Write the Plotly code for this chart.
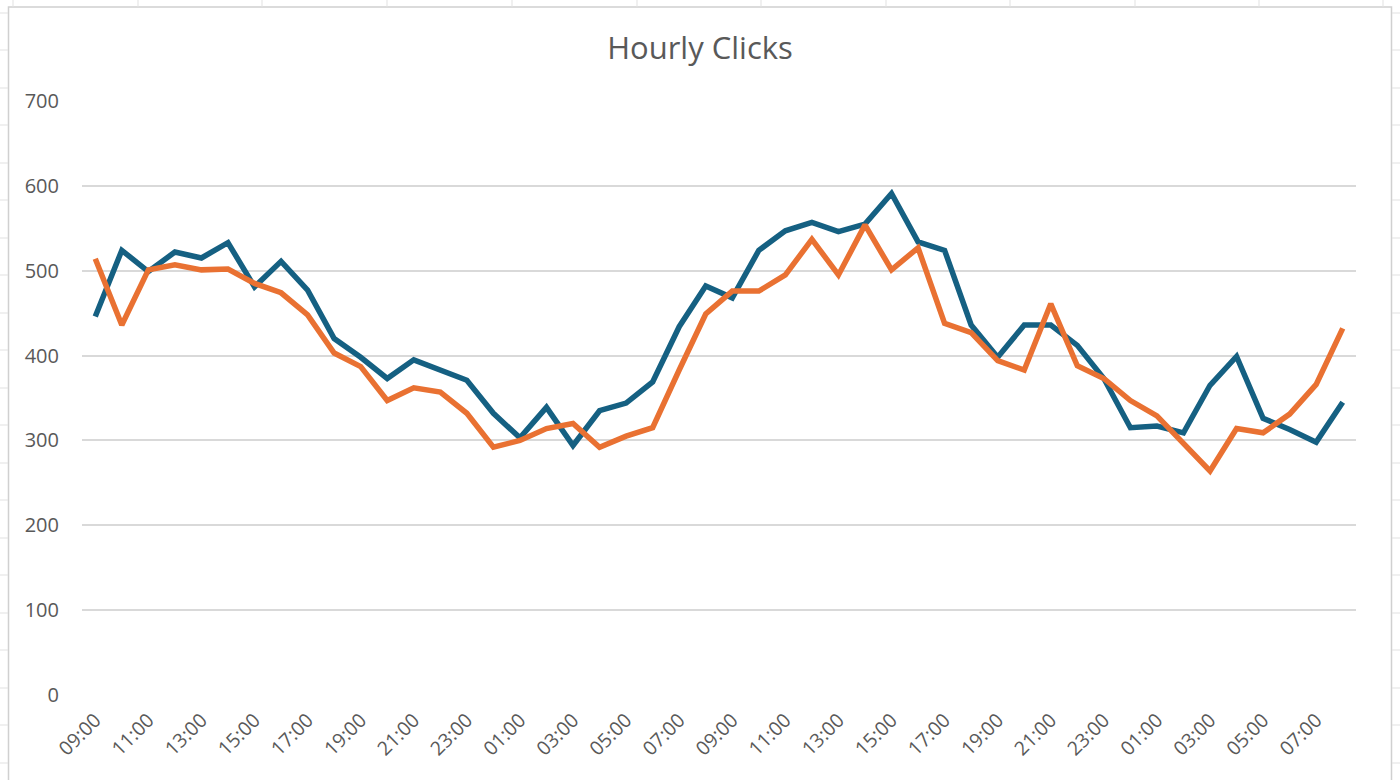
import plotly.graph_objects as go

# hourly buckets, 09:00 day 1 through 08:00 day 3
hours = [
    "09:00", "10:00", "11:00", "12:00", "13:00", "14:00", "15:00", "16:00",
    "17:00", "18:00", "19:00", "20:00", "21:00", "22:00", "23:00", "00:00",
    "01:00", "02:00", "03:00", "04:00", "05:00", "06:00", "07:00", "08:00",
    "09:00", "10:00", "11:00", "12:00", "13:00", "14:00", "15:00", "16:00",
    "17:00", "18:00", "19:00", "20:00", "21:00", "22:00", "23:00", "00:00",
    "01:00", "02:00", "03:00", "04:00", "05:00", "06:00", "07:00", "08:00",
]

clicks_blue = [
    446, 524, 499, 522, 515, 533, 481, 511, 477, 420, 398, 373,
    395, 383, 371, 332, 303, 339, 294, 335, 344, 369, 434, 482,
    468, 524, 547, 557, 546, 555, 591, 534, 524, 436, 398, 436,
    436, 412, 373, 315, 317, 309, 365, 399, 326, 313, 298, 345,
]

clicks_orange = [
    514, 436, 501, 507, 501, 502, 485, 474, 448, 403, 387, 347,
    362, 357, 332, 292, 300, 314, 320, 292, 305, 315, 383, 449,
    476, 476, 495, 537, 495, 554, 501, 527, 438, 427, 394, 383,
    461, 388, 373, 347, 329, 296, 264, 314, 309, 331, 366, 432,
]

y_ticks = [0, 100, 200, 300, 400, 500, 600, 700]

x_idx = list(range(len(hours)))
label_idx = x_idx[::2]
label_text = [hours[i] for i in label_idx]

fig = go.Figure()
fig.add_trace(go.Scatter(x=x_idx, y=clicks_blue, mode="lines",
                         line=dict(color="#156082", width=5.5), name="Series 1"))
fig.add_trace(go.Scatter(x=x_idx, y=clicks_orange, mode="lines",
                         line=dict(color="#E97132", width=5.5), name="Series 2"))

# plot area sits at x 82..1356, y 101..695 in the 1400x780 page
L, R, T, B = 82, 1356, 101, 695


def px_x(p):
    return (p - L) / (R - L)


def px_y(p):
    return (B - p) / (B - T)


grid_col = "#D9D9D9"
shapes = []
# spreadsheet cells behind the chart object
for cx in [13, 138, 262, 387, 512, 637, 761, 886, 1010, 1135, 1259, 1383]:
    shapes.append(dict(type="line", xref="paper", yref="paper",
                       x0=px_x(cx), x1=px_x(cx), y0=px_y(0), y1=px_y(7),
                       line=dict(color="#E1E1E1", width=1)))
for cy in [13, 50, 88, 125, 163, 200, 238, 275, 313, 350, 388, 425, 463,
           500, 538, 575, 613, 650, 688, 725, 763]:
    shapes.append(dict(type="line", xref="paper", yref="paper",
                       x0=px_x(0), x1=px_x(8), y0=px_y(cy), y1=px_y(cy),
                       line=dict(color="#E1E1E1", width=1)))
    shapes.append(dict(type="line", xref="paper", yref="paper",
                       x0=px_x(1392), x1=px_x(1400), y0=px_y(cy), y1=px_y(cy),
                       line=dict(color="#E1E1E1", width=1)))
# chart frame
shapes.append(dict(type="rect", xref="paper", yref="paper",
                   x0=px_x(8.5), x1=px_x(1391.5), y0=px_y(790), y1=px_y(7),
                   line=dict(color="#D0D0D0", width=1.5), fillcolor="rgba(0,0,0,0)",
                   layer="below"))

fig.update_layout(
    width=1400, height=780,
    margin=dict(l=L, r=1400 - R, t=T, b=780 - B),
    paper_bgcolor="white", plot_bgcolor="white",
    showlegend=False,
    font=dict(family="Open Sans, Liberation Sans, sans-serif", color="#595959"),
    title=dict(text="Hourly Clicks", x=0.5, xanchor="center", y=1 - 48 / 780,
               yanchor="middle", font=dict(size=31, color="#595959")),
    shapes=shapes,
)
fig.update_xaxes(range=[-0.5, len(hours) - 0.5], tickvals=label_idx, ticktext=label_text,
                 tickangle=-45, showgrid=False, zeroline=False, showline=False,
                 ticks="", ticklabelstandoff=9, tickfont=dict(size=19.5, color="#595959"))
fig.update_yaxes(range=[0, 700], tickvals=y_ticks, showgrid=True, gridcolor=grid_col,
                 gridwidth=1.5, zeroline=False, showline=False, ticks="",
                 ticklabelstandoff=22, tickfont=dict(size=20, color="#595959"))

# page body margin would shift the whole figure by 8px
fig.write_html("out.html", config={"displayModeBar": False},
               post_script="document.body.style.margin='0px';")
